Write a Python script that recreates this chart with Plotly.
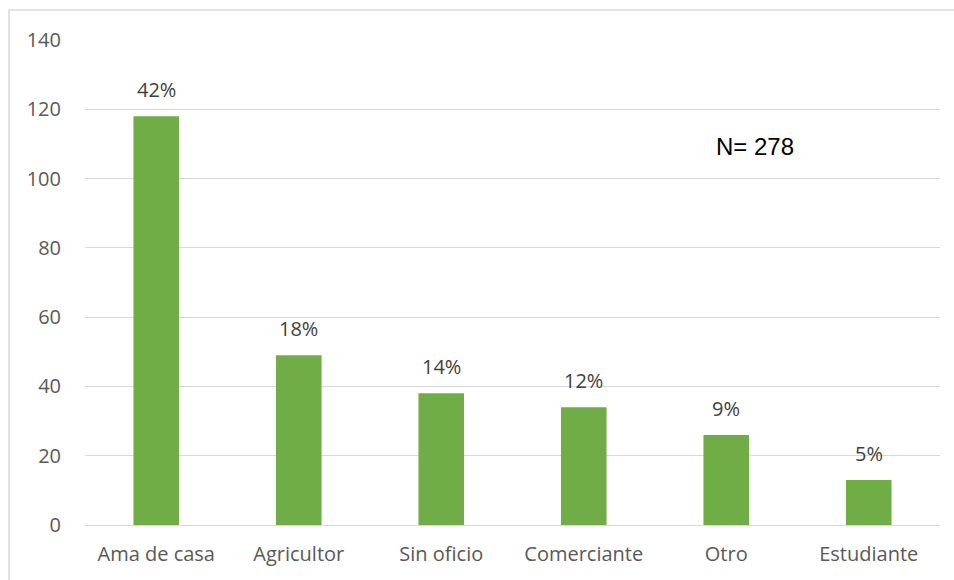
import plotly.graph_objects as go

categories = ["Ama de casa", "Agricultor", "Sin oficio", "Comerciante", "Otro", "Estudiante"]
values = [118, 49, 38, 34, 26, 13]
pct_labels = ["42%", "18%", "14%", "12%", "9%", "5%"]
y_ticks = [0, 20, 40, 60, 80, 100, 120, 140]

W, H = 954, 580
ML, MR, MT, MB = 85, 14, 40, 55
PW, PH = W - ML - MR, H - MT - MB

fig = go.Figure()
fig.add_trace(go.Bar(
    x=categories, y=values,
    marker=dict(color="#70AD47", line=dict(width=0)),
    width=0.32,
    hoverinfo="x+y",
))

for c, v, t in zip(categories, values, pct_labels):
    fig.add_annotation(x=c, y=v, text=t, showarrow=False, yanchor="bottom",
                       yshift=11, font=dict(family="Open Sans", size=20, color="#404040"))

fig.add_annotation(xref="paper", yref="paper", x=(754.5 - ML) / PW, y=(H - MB - 146) / PH,
                   text="N= 278", showarrow=False, xanchor="center", yanchor="middle",
                   font=dict(family="Arial, Liberation Sans", size=24, color="#000000"))

# outer frame (right and bottom edges fall outside the picture)
fig.add_shape(type="rect", xref="paper", yref="paper",
              x0=(9 - ML) / PW, x1=(W + 10 - ML) / PW,
              y0=-(MB + 10) / PH, y1=1 + (MT - 10) / PH,
              line=dict(color="#D9D9D9", width=1.5), layer="below")

fig.update_layout(
    width=W, height=H,
    margin=dict(l=ML, r=MR, t=MT, b=MB),
    paper_bgcolor="white", plot_bgcolor="white",
    showlegend=False,
    bargap=0.68,
    font=dict(family="Open Sans", size=20, color="#595959"),
    xaxis=dict(showgrid=False, zeroline=False, showline=False,
               ticks="outside", ticklen=11, tickcolor="rgba(0,0,0,0)",
               tickfont=dict(size=20, color="#595959")),
    yaxis=dict(range=[0, 140], tickvals=y_ticks, showgrid=True, gridcolor="#D9D9D9",
               gridwidth=1.2, zeroline=True, zerolinecolor="#D9D9D9", zerolinewidth=1.2,
               showline=False, ticks="outside", ticklen=19, tickcolor="rgba(0,0,0,0)",
               tickfont=dict(size=20, color="#595959")),
)

fig.write_html("out.html")
